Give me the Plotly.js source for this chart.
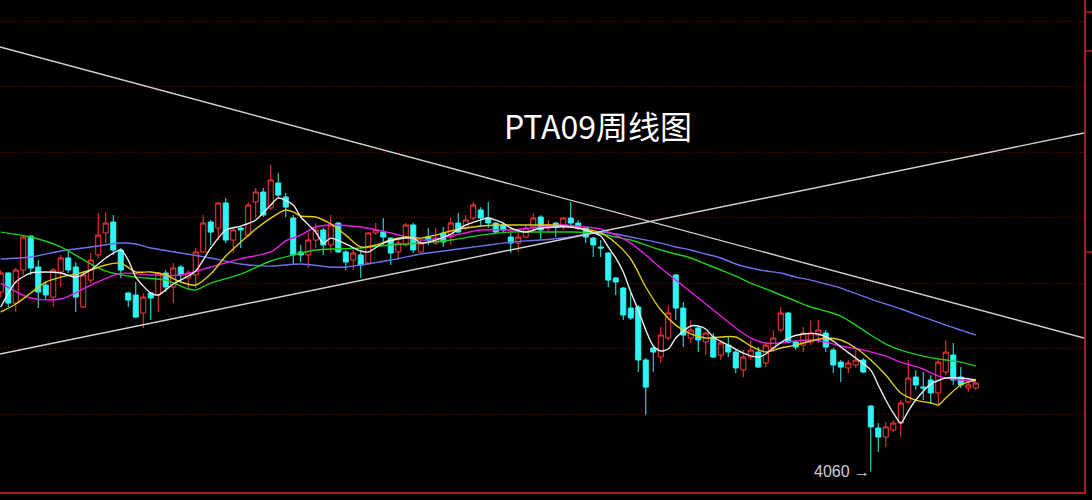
<!DOCTYPE html>
<html><head><meta charset="utf-8">
<script src="https://cdn.plot.ly/plotly-3.0.1.min.js"></script>
<style>html,body{margin:0;padding:0;background:#000;overflow:hidden}#chart{width:1092px;height:500px;}</style>
</head><body><div id="chart"></div>
<script>
// Weekly OHLC (PTA09)
const open = [5433,5578,5348,5601,5860,5624,5486,5394,5586,5693,
5624,5318,5524,5716,5884,5968,5754,5425,5410,5272,
5425,5410,5578,5471,5624,5540,5563,5739,5968,5922,
6113,5830,5922,5868,6121,6197,6075,6266,6159,5998,
5739,5716,5830,5907,5792,5960,5739,5677,5716,5654,
5884,5891,5845,5739,5792,5945,5739,5853,5807,5884,
5853,5960,5922,5998,6060,5998,5960,5945,5853,5807,
5853,5930,6006,5922,5960,5930,5998,5960,5922,5845,
5777,5731,5540,5463,5310,5318,4913,5005,4936,5081,
5563,5310,5081,5158,5050,5089,4951,5027,4974,4836,
4936,4974,4890,5005,5142,5272,5050,5027,5050,5104,
5119,4989,4897,4852,4875,4913,4561,4393,4324,4378,
4431,4592,4783,4706,4760,4661,4821,4951,4783,4699,
4699];
const high = [5601,5586,5616,5868,5868,5677,5509,5616,5716,5754,
5662,5586,5731,6037,6044,6021,5769,5433,5509,5425,
5433,5586,5601,5654,5639,5601,5769,6021,5983,6121,
6151,5922,5930,6121,6228,6228,6404,6342,6190,6021,
5792,5884,5960,5922,6021,5968,5754,5754,5739,5891,
5960,5998,5853,5853,5960,5960,5830,5922,5922,5930,
5998,6037,6021,6121,6082,6121,5968,5960,5884,5884,
5945,6037,6021,5983,5968,6006,6121,5983,5930,5853,
5830,5739,5547,5471,5425,5333,4928,5012,5165,5333,
5570,5356,5219,5165,5127,5119,5066,5089,4989,4989,
5066,5012,5043,5142,5318,5280,5066,5165,5219,5219,
5142,5005,4913,4913,4989,4928,4570,4431,4439,4454,
4607,4913,4836,4821,4798,4928,5066,5043,4859,4745,
4745];
const low = [5394,5318,5280,5563,5563,5310,5371,5318,5471,5578,
5280,5310,5501,5693,5807,5716,5540,5318,5230,5158,
5219,5280,5433,5348,5501,5463,5463,5731,5792,5830,
5807,5731,5769,5853,5998,6006,6060,6159,6006,5639,
5662,5616,5769,5716,5731,5731,5601,5601,5540,5639,
5868,5792,5639,5677,5777,5731,5731,5792,5792,5777,
5792,5884,5907,5983,5930,5922,5884,5891,5731,5739,
5845,5907,5830,5891,5853,5907,5945,5907,5807,5700,
5700,5471,5410,5219,5219,4821,4492,4821,4890,5066,
5219,5012,5043,4974,4951,4928,4913,4936,4813,4783,
4913,4852,4859,4974,5127,5043,4989,4974,5027,5043,
4974,4813,4745,4813,4852,4813,4060,4210,4248,4362,
4324,4584,4684,4607,4584,4569,4798,4722,4699,4668,
4684];
const close = [5578,5348,5601,5853,5616,5433,5410,5601,5693,5601,
5394,5563,5677,5868,5960,5754,5601,5371,5241,5394,
5387,5578,5471,5616,5563,5578,5739,5960,5891,6113,
5830,5907,5907,6098,6197,6021,6289,6174,6082,5716,
5716,5830,5907,5792,5945,5739,5662,5731,5639,5884,
5907,5853,5731,5807,5945,5754,5807,5830,5845,5815,
5960,5891,5983,6098,5998,5960,5891,5907,5807,5853,
5922,5998,5907,5945,5930,5998,5960,5930,5853,5792,
5769,5524,5509,5257,5234,4913,4706,4974,5104,5272,
5310,5104,5142,5066,5119,4936,5043,4974,4852,4936,
4989,4859,5027,5081,5272,5050,5012,5119,5119,5142,
5012,4875,4859,4890,4913,4821,4401,4324,4401,4431,
4584,4775,4722,4699,4661,4897,4974,4760,4722,4722,
4737];

// Moving averages (week index, value)
const maWhiteX = [0,2,4,6,8,10,12,14,16,17,18,20,21,23,25,26,28,30,32,34,36,37,39,40,42,43,44,46,48,49,51,53,55,56,58,60,62,64,65,67,68,70,72,74,76,78,80,81,82,83,84,85,86,87,88,89,90,92,93,94,95,97,99,101,102,103,105,107,109,111,112,114,116,117,118,119,120,121,122,124,126,128,130];
const maWhiteY = [5318,5509,5578,5586,5578,5547,5601,5693,5754,5677,5547,5425,5410,5494,5555,5593,5769,5907,5937,5983,6098,6151,6098,6006,5891,5807,5845,5800,5746,5739,5807,5838,5845,5807,5830,5876,5945,5983,5998,5960,5922,5891,5922,5930,5930,5907,5861,5777,5693,5586,5433,5295,5142,5020,4982,4997,5081,5173,5173,5150,5089,5027,4966,4936,4959,5005,5081,5112,5112,5058,5012,4928,4836,4722,4607,4508,4431,4523,4607,4729,4775,4775,4760];
const maYellowX = [0,2,4,6,8,10,12,14,16,18,20,22,24,26,28,30,32,34,36,38,39,40,42,44,46,48,50,52,54,56,58,60,62,64,66,68,70,72,74,76,78,80,82,84,86,88,90,92,94,96,98,100,102,104,106,108,110,112,114,116,118,120,122,124,125,126,128,130];
const maYellowY = [5280,5341,5425,5509,5547,5570,5601,5639,5654,5586,5586,5563,5509,5486,5570,5708,5815,5914,5998,6060,6044,6014,6006,5953,5868,5777,5792,5830,5853,5845,5868,5899,5922,5937,5945,5945,5945,5945,5945,5930,5914,5884,5807,5685,5471,5295,5180,5112,5081,5089,5089,5020,4974,5005,5027,5058,5081,5066,5005,4913,4798,4661,4607,4584,4569,4622,4722,4760];
const maMagentaX = [0,4,8,12,16,20,24,28,32,36,38,40,42,44,48,52,56,58,60,64,68,72,75,78,80,82,84,86,88,90,92,94,96,98,100,102,104,106,108,110,112,115,118,120,123,125,128,130];
const maMagentaY = [5501,5387,5379,5486,5575,5563,5563,5624,5688,5739,5823,5868,5930,5945,5930,5884,5830,5838,5861,5907,5907,5930,5945,5930,5914,5868,5807,5716,5616,5524,5433,5341,5249,5158,5081,5043,5043,5058,5066,5050,5020,4989,4943,4897,4844,4790,4760,4745];
const maGreenX = [0,4,8,12,14,18,22,25,26,28,32,36,39,42,48,52,56,60,64,68,72,76,80,82,84,88,90,92,94,96,98,100,102,104,106,108,110,112,114,116,118,120,123,126,128,130];
const maGreenY = [5891,5853,5777,5647,5593,5547,5524,5456,5448,5501,5570,5670,5716,5754,5769,5792,5807,5830,5868,5891,5891,5891,5876,5853,5830,5754,5723,5693,5647,5601,5555,5501,5456,5410,5364,5318,5287,5249,5180,5104,5035,4989,4943,4913,4897,4867];
const maBlueX = [0,4,8,12,16,18,20,24,28,32,36,40,44,46,48,52,56,60,64,68,72,76,78,80,82,84,88,90,92,94,96,98,100,102,104,106,108,110,112,116,120,123,126,128,130];
const maBlueY = [5685,5700,5746,5777,5807,5800,5769,5731,5693,5647,5631,5647,5624,5624,5639,5677,5723,5754,5784,5815,5830,5853,5876,5891,5876,5853,5807,5777,5754,5723,5693,5647,5616,5593,5578,5547,5524,5494,5463,5379,5303,5241,5180,5142,5104];

// Hand-drawn trend lines (week index, price)
const trendDownX = [-0.1, 144.43];
const trendDownY = [7306, 5081];
const trendUpX = [-0.1, 144.43];
const trendUpY = [4959, 6648];

// Price grid levels
const gridLevels = [4500, 5000, 5500, 6000, 6500, 7000, 7500];

const titleText = 'PTA09周线图';

const week = open.map((_, i) => i);
let lowIdx = 0;
low.forEach((v, i) => { if (v < low[lowIdx]) lowIdx = i; });

const RED = '#ff3b3b', CYAN = '#2ef5f5';
const traces = [
  {type:'candlestick', x:week, open:open, high:high, low:low, close:close,
   increasing:{line:{color:RED, width:1}, fillcolor:'#000000'},
   decreasing:{line:{color:CYAN, width:1}, fillcolor:CYAN},
   whiskerwidth:0, hoverinfo:'skip'},
  {type:'scatter', mode:'lines', x:maBlueX, y:maBlueY, line:{color:'#7070ea', width:1.4, shape:'spline', smoothing:0.8}, hoverinfo:'skip'},
  {type:'scatter', mode:'lines', x:maGreenX, y:maGreenY, line:{color:'#1fcc1f', width:1.4, shape:'spline', smoothing:0.8}, hoverinfo:'skip'},
  {type:'scatter', mode:'lines', x:maMagentaX, y:maMagentaY, line:{color:'#e81ee8', width:1.4, shape:'spline', smoothing:0.8}, hoverinfo:'skip'},
  {type:'scatter', mode:'lines', x:maYellowX, y:maYellowY, line:{color:'#e0cc14', width:1.4, shape:'spline', smoothing:0.8}, hoverinfo:'skip'},
  {type:'scatter', mode:'lines', x:maWhiteX, y:maWhiteY, line:{color:'#ececec', width:1.4, shape:'spline', smoothing:0.7}, hoverinfo:'skip'},
  {type:'scatter', mode:'lines', x:trendDownX, y:trendDownY, line:{color:'#d2d2d2', width:1.4}, hoverinfo:'skip'},
  {type:'scatter', mode:'lines', x:trendUpX, y:trendUpY, line:{color:'#d2d2d2', width:1.4}, hoverinfo:'skip'}
];

const BORDER = '#b31c1c';
const layout = {
  width:1092, height:500,
  paper_bgcolor:'#000', plot_bgcolor:'#000',
  margin:{l:0, r:8, t:0, b:8, pad:0},
  showlegend:false,
  hovermode:false,
  boxgap:0.18, boxgroupgap:0.18,
  title:{text:titleText, font:{family:'Noto Sans CJK SC, Noto Sans', size:32, color:'#ffffff'},
         x:598/1092, xanchor:'center', y:1-128/500, yanchor:'middle'},
  xaxis:{range:[-0.1, 144.43], showgrid:false, zeroline:false, showticklabels:false, ticks:'',
         showline:true, linecolor:BORDER, linewidth:1.5, rangeslider:{visible:false}, fixedrange:true},
  yaxis:{range:[3904, 7665], side:'right', showgrid:true, gridcolor:'#8c0000', griddash:'1px,2px', gridwidth:1,
         tickmode:'array', tickvals:gridLevels, zeroline:false, showticklabels:false, ticks:'',
         showline:true, linecolor:BORDER, linewidth:1.5, fixedrange:true},
  annotations:[
    {x:lowIdx, y:low[lowIdx], xref:'x', yref:'y', text:String(low[lowIdx]) + ' →', showarrow:false,
     xanchor:'right', yanchor:'middle', xshift:1,
     font:{family:'Liberation Sans, Arial', size:16, color:'#cfcfcf'}}
  ],
  shapes:[
    {type:'line', xref:'paper', yref:'paper', x0:1, x1:1.01, y0:1-12/492, y1:1-12/492, line:{color:BORDER, width:1.5}},
    {type:'line', xref:'paper', yref:'paper', x0:1, x1:1.01, y0:1-51/492, y1:1-51/492, line:{color:BORDER, width:1.5}},
    {type:'line', xref:'paper', yref:'paper', x0:1, x1:1.01, y0:1-252/492, y1:1-252/492, line:{color:BORDER, width:1.5}}
  ]
};

Plotly.newPlot('chart', traces, layout, {displayModeBar:false, staticPlot:true});
</script>
</body></html>
